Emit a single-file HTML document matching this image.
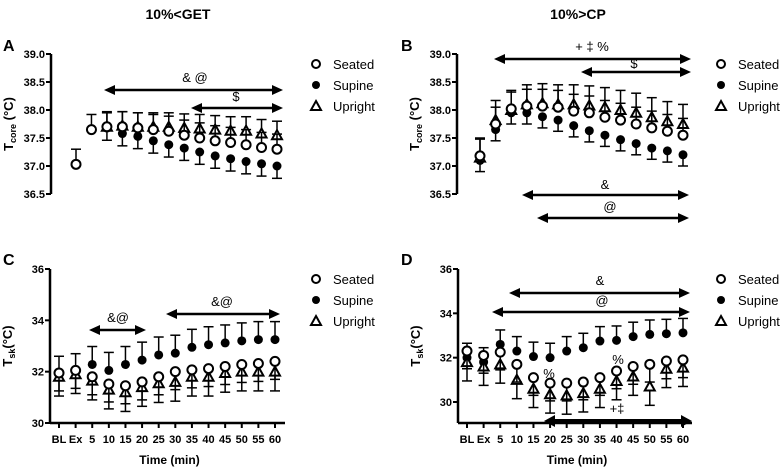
<!DOCTYPE html>
<html><head><meta charset="utf-8"><style>
html,body{margin:0;padding:0;background:#fff;}
svg{display:block;font-family:"Liberation Sans",sans-serif;font-weight:bold;}
</style></head><body>
<svg id="c" width="781" height="468" viewBox="0 0 781 468">
<text x="178" y="19" text-anchor="middle" font-size="14">10%&lt;GET</text>
<text x="578" y="19" text-anchor="middle" font-size="14">10%&gt;CP</text>
<text x="3" y="51" font-size="16">A</text>
<text x="401" y="51" font-size="16">B</text>
<text x="3" y="265" font-size="16">C</text>
<text x="401" y="265" font-size="16">D</text>
</svg>
<script>
const categories=["BL","Ex","5","10","15","20","25","30","35","40","45","50","55","60"];
const aSeated=[37.03,37.65,37.7,37.7,37.68,37.65,37.62,37.55,37.5,37.45,37.42,37.38,37.33,37.3];
const aSupine=[null,null,37.68,37.58,37.53,37.45,37.38,37.32,37.25,37.18,37.13,37.08,37.04,37.0];
const aUpright=[null,null,37.7,37.72,37.7,37.7,37.7,37.68,37.67,37.65,37.63,37.63,37.58,37.55];
const bSeated=[37.18,37.75,38.02,38.07,38.07,38.05,37.98,37.95,37.87,37.82,37.75,37.68,37.62,37.55];
const bSupine=[37.1,37.65,37.95,37.95,37.88,37.82,37.72,37.63,37.55,37.47,37.4,37.32,37.27,37.2];
const bUpright=[37.15,37.82,38.0,38.1,38.12,38.1,38.1,38.08,38.05,38.0,37.95,37.87,37.8,37.75];
const cSeated=[31.95,32.05,31.8,31.52,31.45,31.6,31.8,32.0,32.07,32.12,32.2,32.28,32.32,32.4];
const cSupine=[31.9,32.0,32.28,32.05,32.28,32.45,32.65,32.72,32.95,33.05,33.12,33.2,33.25,33.25];
const cUpright=[31.8,31.9,31.65,31.3,31.2,31.4,31.55,31.6,31.8,31.8,31.95,32.0,32.0,32.0];
const dSeated=[32.3,32.1,32.25,31.7,31.1,30.85,30.85,30.9,31.1,31.4,31.6,31.7,31.85,31.9];
const dSupine=[32.0,31.8,32.6,32.3,32.05,32.0,32.3,32.45,32.75,32.78,32.95,33.05,33.08,33.12];
const dUpright=[31.8,31.6,31.7,31.0,30.6,30.35,30.3,30.4,30.6,30.95,31.15,30.7,31.5,31.55];
const coreTicks=[36.5,37.0,37.5,38.0,38.5,39.0];
const skinTicks=[30,32,34,36];

const svg=document.getElementById('c');
const NS='http://www.w3.org/2000/svg';
function mk(tag,attrs,parent){const e=document.createElementNS(NS,tag);for(const k in attrs)e.setAttribute(k,attrs[k]);(parent||svg).appendChild(e);return e;}

function panel(p){
  const g=mk('g',{});
  
  
  const sx=i=>p.x0+i*(p.x1-p.x0)/13;
  const sy=v=>p.yTop+(p.yMax-v)/(p.yMax-p.yMin)*(p.yBot-p.yTop);
  const axB=p.axisBottom||sy(p.yMin);
  const ya=mk('line',{x1:p.ax,y1:sy(p.yMax),x2:p.ax,y2:axB,stroke:'#000','stroke-width':2.5},g);
  
  p.ticks.forEach(t=>{
    mk('line',{x1:p.ax-5,y1:sy(t),x2:p.ax,y2:sy(t),stroke:'#000','stroke-width':2},g);
    const tl=mk('text',{x:p.ax-6,y:sy(t)+4,'text-anchor':'end','font-size':11},g);
    tl.textContent=p.fmt(t);
    
  });
  const yt=mk('text',{transform:`translate(${p.ax-38},${(sy(p.yMax)+axB)/2}) rotate(-90)`,'text-anchor':'middle','font-size':13},g);
  yt.innerHTML='T<tspan font-size="9" dy="3">'+p.sub+'</tspan><tspan dy="-3">'+p.unit+'</tspan>';
  
  if(p.xaxis){
    const xa=mk('line',{x1:p.ax,y1:axB,x2:p.xEnd,y2:axB,stroke:'#000','stroke-width':2.5},g);
    
    categories.forEach((c,i)=>{
      mk('line',{x1:sx(i),y1:axB,x2:sx(i),y2:axB+5,stroke:'#000','stroke-width':2},g);
      const t=mk('text',{x:sx(i),y:axB+20,'text-anchor':'middle','font-size':11},g);
      t.textContent=c;
      
    });
    const xt=mk('text',{x:(p.ax+p.xEnd)/2+2,y:axB+41,'text-anchor':'middle','font-size':12},g);
    xt.textContent='Time (min)';
    
  }
  const series=[[p.sup,'supine'],[p.upr,'upright'],[p.sea,'seated']];
  series.forEach(([arr,kind])=>{
    arr.forEach((v,i)=>{
      if(v==null)return;
      const x=sx(i),y=sy(v);
      const e=p.err[kind];
      const ye=sy(v+e);
      mk('line',{x1:x,y1:y,x2:x,y2:ye,stroke:'#000','stroke-width':1.5},g);
      mk('line',{x1:x-5,y1:ye,x2:x+5,y2:ye,stroke:'#000','stroke-width':1.5},g);
      let m;
      if(kind==='seated')m=mk('circle',{cx:x,cy:y,r:4.5,fill:'#fff',stroke:'#000','stroke-width':2},g);
      else if(kind==='supine')m=mk('circle',{cx:x,cy:y,r:4.5,fill:'#000'},g);
      else m=mk('path',{d:`M${x},${y-5}L${x+5},${y+4}L${x-5},${y+4}Z`,fill:'#fff',stroke:'#000','stroke-width':2},g);
      
      
    });
  });
  const lg=mk('g',{},g);
  [['Seated','seated'],['Supine','supine'],['Upright','upright']].forEach(([lab,k],j)=>{
    const y=p.legY+j*21,x=p.legX;
    if(k==='seated')mk('circle',{cx:x,cy:y,r:4,fill:'#fff',stroke:'#000','stroke-width':2},lg);
    else if(k==='supine')mk('circle',{cx:x,cy:y,r:4,fill:'#000'},lg);
    else mk('path',{d:`M${x},${y-5}L${x+5},${y+4}L${x-5},${y+4}Z`,fill:'#fff',stroke:'#000','stroke-width':2},lg);
    const t=mk('text',{x:x+17,y:y+5,'font-size':13,'font-weight':'normal'},lg);
    t.textContent=lab;
    
  });
  (p.arrows||[]).forEach(a=>{
    const ag=mk('g',{},g);
    const w=a.w||2.5,h=a.h||5;
    mk('line',{x1:a.x1+8,y1:a.y,x2:a.x2-8,y2:a.y,stroke:'#000','stroke-width':w},ag);
    mk('path',{d:`M${a.x1},${a.y}L${a.x1+11},${a.y-h}L${a.x1+11},${a.y+h}Z`,fill:'#000'},ag);
    mk('path',{d:`M${a.x2},${a.y}L${a.x2-11},${a.y-h}L${a.x2-11},${a.y+h}Z`,fill:'#000'},ag);
    if(a.t){const t=mk('text',{x:a.tx,y:a.ty,'text-anchor':'middle','font-size':13,'font-weight':'normal'},ag);t.textContent=a.t;}
  });
  (p.labels||[]).forEach(l=>{
    const t=mk('text',{x:l.x,y:l.y,'text-anchor':'middle','font-size':13,'font-weight':'normal'},g);t.textContent=l.t;
    
  });
}
panel({name:'panel-a',ax:51,x0:76,x1:277,yTop:54,yBot:194,yMin:36.5,yMax:39,ticks:coreTicks,fmt:v=>v.toFixed(1),sub:'core',unit:' (°C)',
  sea:aSeated,sup:aSupine,upr:aUpright,err:{seated:0.27,upright:0.25,supine:-0.22},legX:316,legY:64,
  arrows:[{x1:104,x2:283,y:90,t:'& @',tx:195,ty:82},{x1:191,x2:283,y:108,t:'$',tx:236,ty:101}]});
panel({name:'panel-b',ax:457,x0:480,x1:683,yTop:54,yBot:194,yMin:36.5,yMax:39,ticks:coreTicks,fmt:v=>v.toFixed(1),sub:'core',unit:' (°C)',
  sea:bSeated,sup:bSupine,upr:bUpright,err:{seated:0.3,upright:0.35,supine:-0.2},legX:721,legY:64,
  arrows:[{x1:494,x2:691,y:59,t:'+ ‡ %',tx:592,ty:51},{x1:581,x2:691,y:72,t:'$',tx:634,ty:68},
          {x1:522,x2:689,y:195,t:'&',tx:605,ty:189},{x1:537,x2:689,y:218,t:'@',tx:610,ty:211}]});
panel({name:'panel-c',ax:50,x0:59,x1:275,yTop:269,yBot:423,yMin:30,yMax:36,ticks:skinTicks,fmt:v=>v,sub:'sk',unit:'(°C)',xaxis:true,xEnd:285,
  sea:cSeated,sup:cSupine,upr:cUpright,err:{seated:-0.7,upright:-0.75,supine:0.7},legX:316,legY:279,
  arrows:[{x1:89,x2:146,y:330,t:'&@',tx:118,ty:322},{x1:166,x2:280,y:314,t:'&@',tx:222,ty:306}]});
panel({name:'panel-d',ax:458,x0:467,x1:683,yTop:269,yBot:402,yMin:30,yMax:36,axisBottom:423,ticks:skinTicks,fmt:v=>v,sub:'sk',unit:'(°C)',xaxis:true,xEnd:692,
  sea:dSeated,sup:dSupine,upr:dUpright,err:{seated:-0.8,upright:-0.85,supine:0.65},legX:721,legY:279,
  arrows:[{x1:509,x2:690,y:293,t:'&',tx:600,ty:285},{x1:492,x2:690,y:312,t:'@',tx:602,ty:305},
          {x1:544,x2:692,y:421,w:4,h:6,t:'+‡',tx:617,ty:413}],
  labels:[{x:549,y:378,t:'%'},{x:618,y:364,t:'%'}]});
</script>
</body></html>
